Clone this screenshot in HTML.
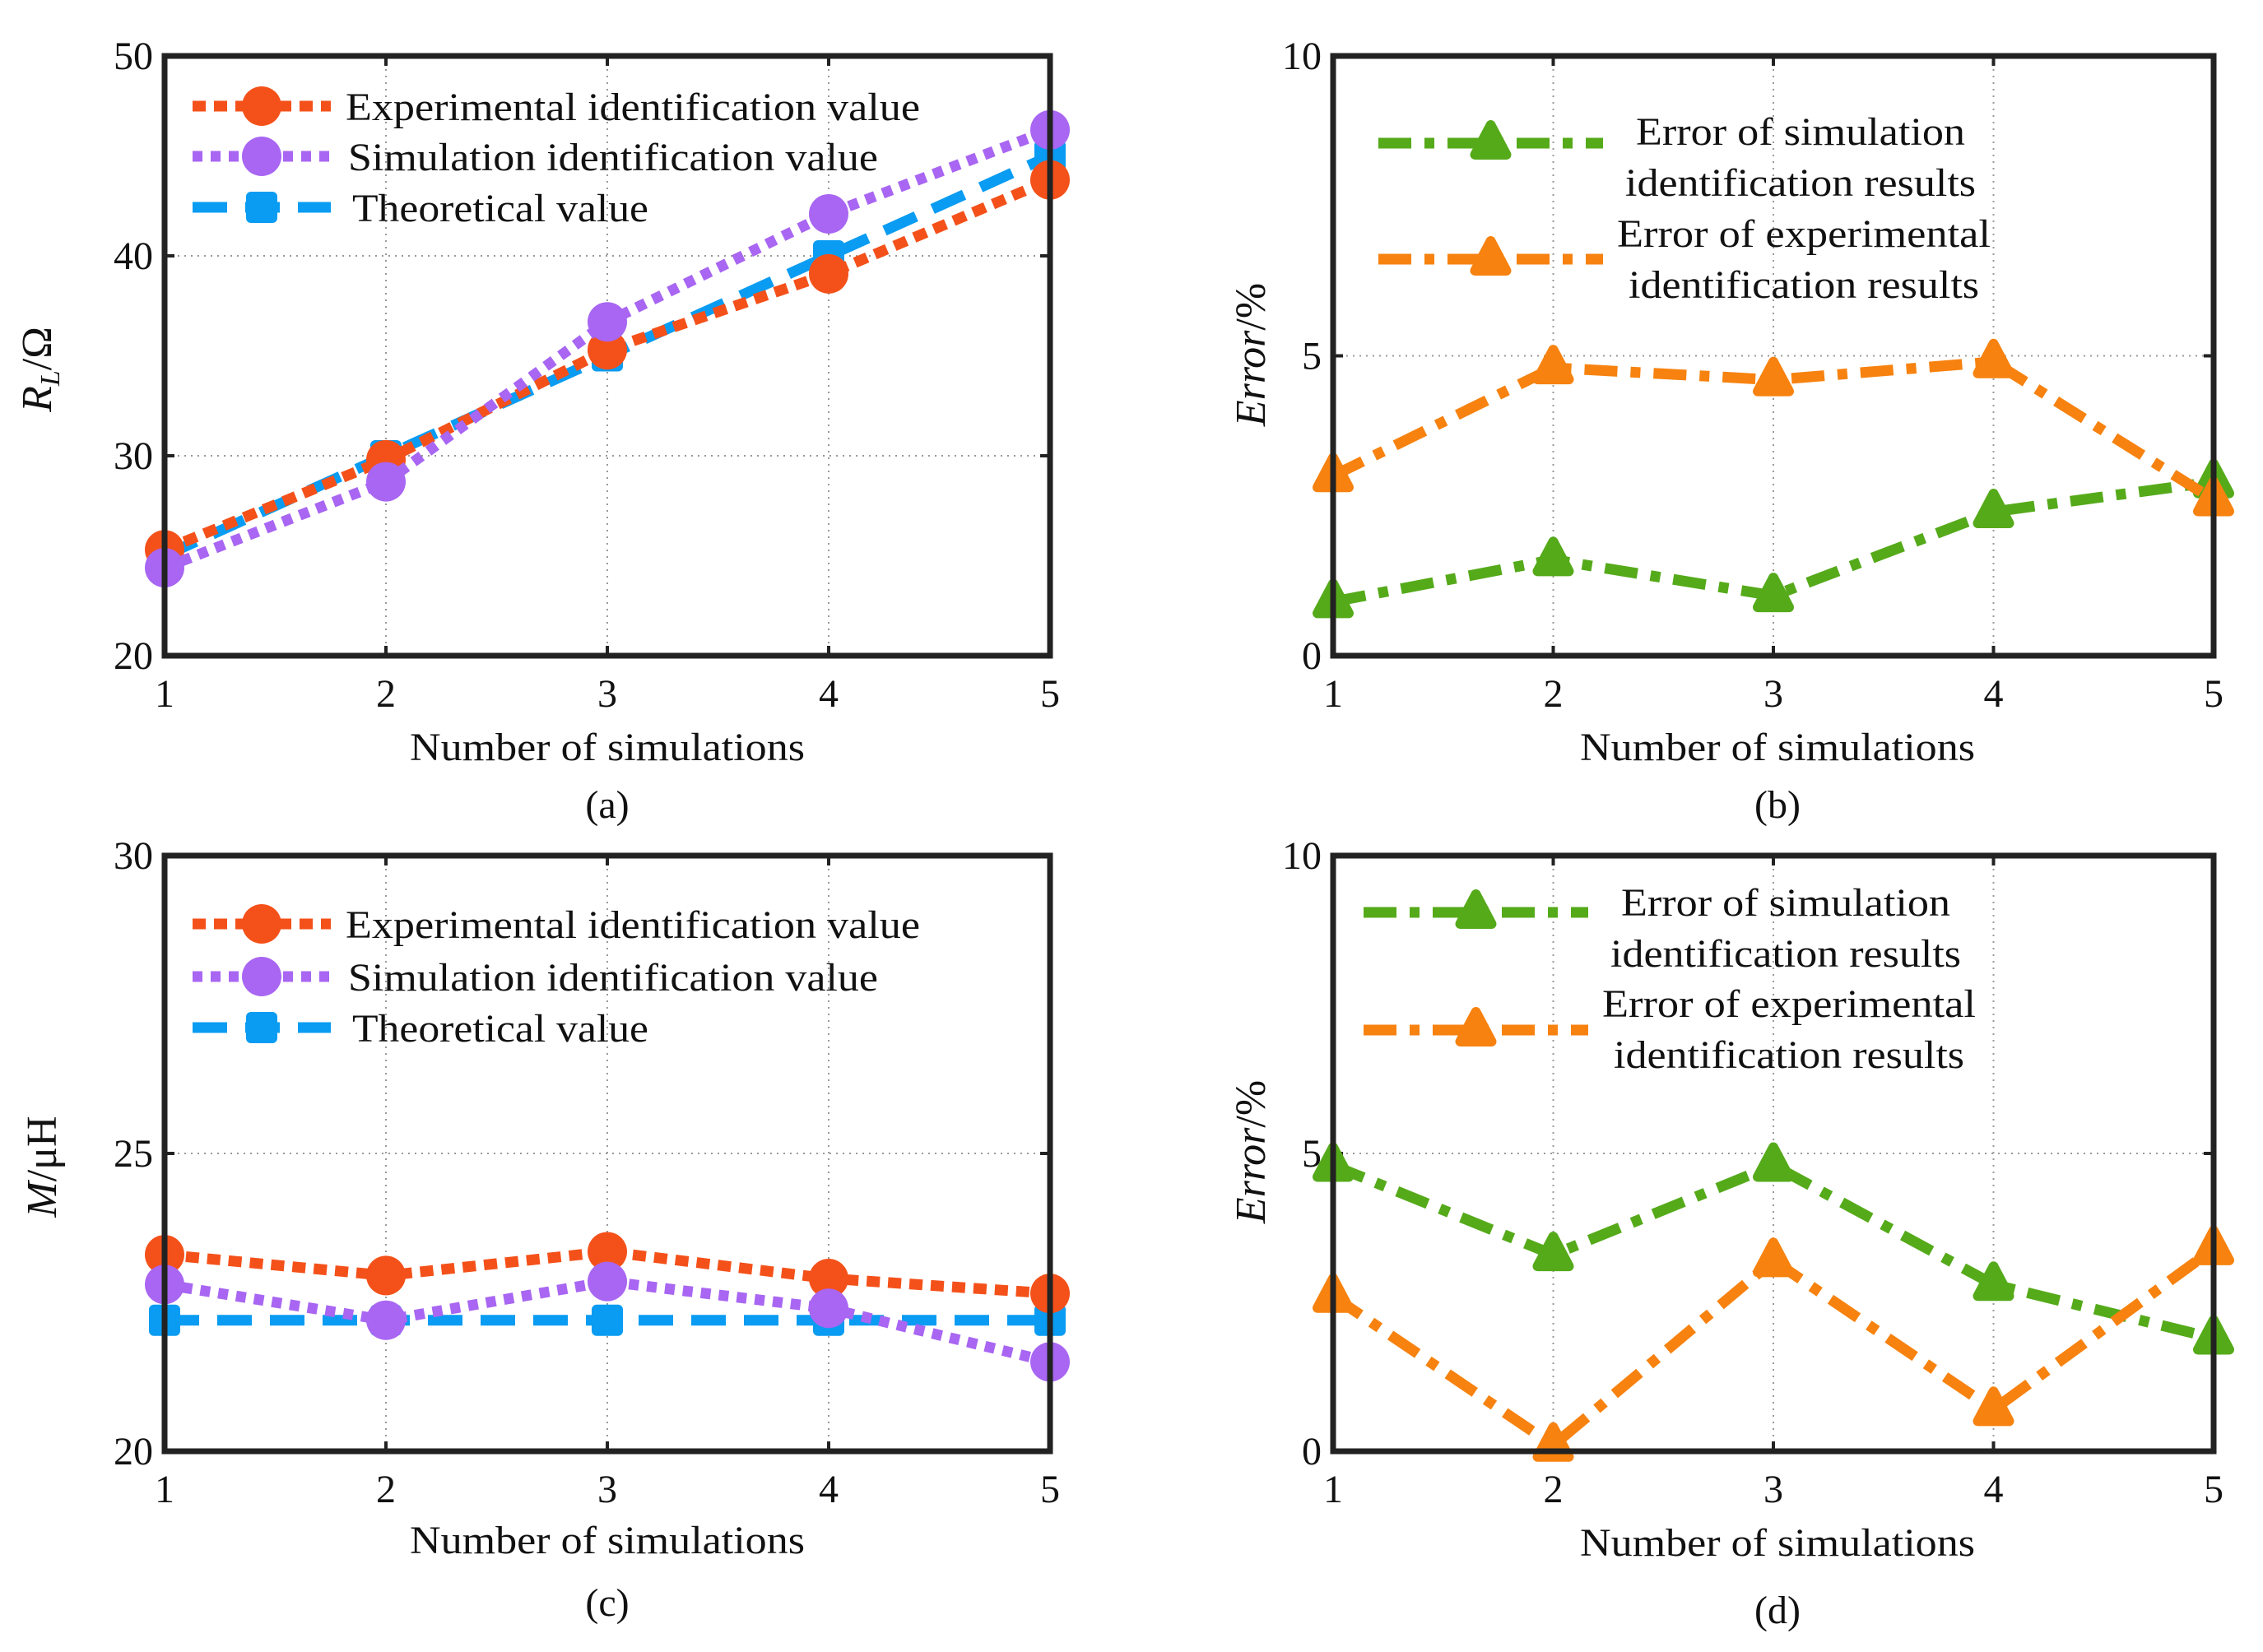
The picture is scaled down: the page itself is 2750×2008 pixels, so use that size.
<!DOCTYPE html>
<html><head><meta charset="utf-8">
<style>
html,body{margin:0;padding:0;background:#fff;}
svg{display:block;}
text{font-family:"Liberation Serif",serif;fill:#111;}
</style></head>
<body>
<svg id="chart" width="2750" height="2008" viewBox="0 0 2750 2008" xmlns="http://www.w3.org/2000/svg"></svg>
<script>
const xCategories = [1, 2, 3, 4, 5];
const aExperimental = [25.3, 29.8, 35.3, 39.1, 43.8];
const aSimulation = [24.4, 28.7, 36.7, 42.1, 46.3];
const aTheoretical = [25, 30, 35, 40, 45];
const aTicks = [20, 30, 40, 50];
const bSimError = [0.9, 1.6, 1.0, 2.4, 2.9];
const bExpError = [3.0, 4.8, 4.6, 4.9, 2.6];
const errTicks = [0, 5, 10];
const cExperimental = [23.3, 22.95, 23.35, 22.9, 22.65];
const cSimulation = [22.8, 22.2, 22.85, 22.4, 21.5];
const cTheoretical = [22.2, 22.2, 22.2, 22.2, 22.2];
const cTicks = [20, 25, 30];
const dSimError = [4.8, 3.3, 4.8, 2.8, 1.9];
const dExpError = [2.6, 0.1, 3.2, 0.7, 3.4];

const NS = "http://www.w3.org/2000/svg";
const svg = document.getElementById('chart');
function mk(tag, attrs, parent) {
  const e = document.createElementNS(NS, tag);
  for (const k in attrs) e.setAttribute(k, attrs[k]);
  (parent || svg).appendChild(e);
  return e;
}
const C = {exp:'#f4511a', sim:'#a866f2', theo:'#0a9cf2', green:'#55aa1a', orange:'#f7820f'};
const DASH = {exp:'16 10', sim:'12 10', theo:'42 22', green:'40 16 12 16', orange:'40 16 12 16'};

function panel(id, L, R, T, B, ymin, ymax, ticks) {
  const g = mk('g', {});
  
  
  const xs = v => L + (v - 1) / 4 * (R - L);
  const ys = v => B - (v - ymin) / (ymax - ymin) * (B - T);
  xCategories.forEach(c => {
    if (c === 1 || c === 5) return;
    const l = mk('line', {x1: xs(c), x2: xs(c), y1: T, y2: B, stroke: '#999', 'stroke-width': 2, 'stroke-dasharray': '2 6'}, g);
    
    
  });
  ticks.forEach(t => {
    if (t === ymin || t === ymax) return;
    const l = mk('line', {x1: L, x2: R, y1: ys(t), y2: ys(t), stroke: '#999', 'stroke-width': 2, 'stroke-dasharray': '2 6'}, g);
    
    
  });
  xCategories.forEach(c => {
    mk('line', {x1: xs(c), x2: xs(c), y1: B, y2: B - 12, stroke: '#222', 'stroke-width': 4}, g);
    mk('line', {x1: xs(c), x2: xs(c), y1: T, y2: T + 12, stroke: '#222', 'stroke-width': 4}, g);
    const t = mk('text', {x: xs(c), y: B + 62, 'text-anchor': 'middle', 'font-size': 48}, g);
    t.textContent = c;
    
    
  });
  ticks.forEach(v => {
    mk('line', {x1: L, x2: L + 12, y1: ys(v), y2: ys(v), stroke: '#222', 'stroke-width': 4}, g);
    mk('line', {x1: R, x2: R - 12, y1: ys(v), y2: ys(v), stroke: '#222', 'stroke-width': 4}, g);
    const t = mk('text', {x: L - 14, y: ys(v) + 16, 'text-anchor': 'end', 'font-size': 48}, g);
    t.textContent = v;
    
    
  });
  return {g, xs, ys};
}
function marker(g, type, x, y, color) {
  let m;
  if (type === 'circle') m = mk('circle', {cx: x, cy: y, r: 24, fill: color}, g);
  else if (type === 'square') m = mk('rect', {x: x - 19, y: y - 19, width: 38, height: 38, rx: 6, fill: color}, g);
  else m = mk('polygon', {points: `${x},${y-22} ${x-19},${y+14} ${x+19},${y+14}`, fill: color, stroke: color, 'stroke-width': 12, 'stroke-linejoin': 'round'}, g);
  
  
}
function series(p, name, vals, color, dash, mtype) {
  const pts = vals.map((v, i) => p.xs(xCategories[i]) + ',' + p.ys(v)).join(' ');
  const pl = mk('polyline', {points: pts, fill: 'none', stroke: color, 'stroke-width': 13, 'stroke-dasharray': dash}, p.g);
  
  
  vals.forEach((v, i) => marker(p.g, mtype, p.xs(xCategories[i]), p.ys(v), color));
}
function frame(p, L, R, T, B) {
  const r = mk('rect', {x: L, y: T, width: R - L, height: B - T, fill: 'none', stroke: '#222', 'stroke-width': 7}, p.g);
  
  
}
function legendEntry(g, x1, x2, y, color, dash, mtype, lines, tx, anchor) {
  const e = mk('g', {}, g);
  
  
  mk('line', {x1: x1, x2: x2, y1: y, y2: y, stroke: color, 'stroke-width': 13, 'stroke-dasharray': dash}, e);
  marker(e, mtype, (x1 + x2) / 2, y, color);
  lines.forEach(l => {
    const t = mk('text', {x: tx, y: l[1], 'font-size': 48, 'text-anchor': anchor, textLength: l[2], lengthAdjust: 'spacingAndGlyphs'}, e);
    t.textContent = l[0];
  });
}
function labels(g, xlabelX, xlabelY, capY, cap, ytx, yty, yparts) {
  let t = mk('text', {x: xlabelX, y: xlabelY, 'text-anchor': 'middle', 'font-size': 48, textLength: 480, lengthAdjust: 'spacingAndGlyphs'}, g);
  t.textContent = 'Number of simulations';
  
  
  t = mk('text', {x: xlabelX, y: capY, 'text-anchor': 'middle', 'font-size': 48}, g);
  t.textContent = cap;
  
  
  t = mk('text', {x: ytx, y: yty, 'text-anchor': 'middle', 'font-size': 52, transform: `rotate(-90 ${ytx} ${yty})`}, g);
  
  
  yparts.forEach(pp => {
    const s = mk('tspan', pp[1], t);
    s.textContent = pp[0];
  });
}

let L = 200, R = 1276, T = 68, B = 797;
let p = panel('a', L, R, T, B, 20, 50, aTicks);
series(p, 'theoretical', aTheoretical, C.theo, DASH.theo, 'square');
series(p, 'experimental', aExperimental, C.exp, DASH.exp, 'circle');
series(p, 'simulation', aSimulation, C.sim, DASH.sim, 'circle');
frame(p, L, R, T, B);
legendEntry(p.g, 234, 402, 129, C.exp, DASH.exp, 'circle', [['Experimental identification value', 146, 698]], 420, 'start');
legendEntry(p.g, 234, 402, 190, C.sim, DASH.sim, 'circle', [['Simulation identification value', 207, 644]], 423, 'start');
legendEntry(p.g, 234, 402, 252, C.theo, DASH.theo, 'square', [['Theoretical value', 269, 360]], 428, 'start');
labels(p.g, 738, 924, 994, '(a)', 62, 449, [['R', {'font-style': 'italic'}], ['L', {'font-style': 'italic', 'font-size': 34, dy: 10}], ['/Ω', {dy: -10}]]);

L = 1620; R = 2690; T = 68; B = 797;
p = panel('b', L, R, T, B, 0, 10, errTicks);
series(p, 'sim-error', bSimError, C.green, DASH.green, 'triangle');
series(p, 'exp-error', bExpError, C.orange, DASH.orange, 'triangle');
frame(p, L, R, T, B);
legendEntry(p.g, 1675, 1948, 174, C.green, DASH.green, 'triangle', [['Error of simulation', 176, 400], ['identification results', 238, 426]], 2188, 'middle');
legendEntry(p.g, 1675, 1948, 315, C.orange, DASH.orange, 'triangle', [['Error of experimental', 300, 454], ['identification results', 362, 426]], 2192, 'middle');
labels(p.g, 2160, 924, 994, '(b)', 1537, 431, [['Error', {'font-style': 'italic'}], ['/%', {}]]);

L = 200; R = 1276; T = 1040; B = 1764;
p = panel('c', L, R, T, B, 20, 30, cTicks);
series(p, 'theoretical', cTheoretical, C.theo, DASH.theo, 'square');
series(p, 'experimental', cExperimental, C.exp, DASH.exp, 'circle');
series(p, 'simulation', cSimulation, C.sim, DASH.sim, 'circle');
frame(p, L, R, T, B);
legendEntry(p.g, 234, 402, 1123, C.exp, DASH.exp, 'circle', [['Experimental identification value', 1140, 698]], 420, 'start');
legendEntry(p.g, 234, 402, 1187, C.sim, DASH.sim, 'circle', [['Simulation identification value', 1204, 644]], 423, 'start');
legendEntry(p.g, 234, 402, 1249, C.theo, DASH.theo, 'square', [['Theoretical value', 1266, 360]], 428, 'start');
labels(p.g, 738, 1888, 1964, '(c)', 68, 1418, [['M', {'font-style': 'italic'}], ['/μH', {}]]);

L = 1620; R = 2690; T = 1040; B = 1764;
p = panel('d', L, R, T, B, 0, 10, errTicks);
series(p, 'sim-error', dSimError, C.green, DASH.green, 'triangle');
series(p, 'exp-error', dExpError, C.orange, DASH.orange, 'triangle');
frame(p, L, R, T, B);
legendEntry(p.g, 1657, 1930, 1109, C.green, DASH.green, 'triangle', [['Error of simulation', 1113, 400], ['identification results', 1175, 426]], 2170, 'middle');
legendEntry(p.g, 1657, 1930, 1252, C.orange, DASH.orange, 'triangle', [['Error of experimental', 1236, 454], ['identification results', 1298, 426]], 2174, 'middle');
labels(p.g, 2160, 1891, 1973, '(d)', 1537, 1400, [['Error', {'font-style': 'italic'}], ['/%', {}]]);
</script>
</body></html>
